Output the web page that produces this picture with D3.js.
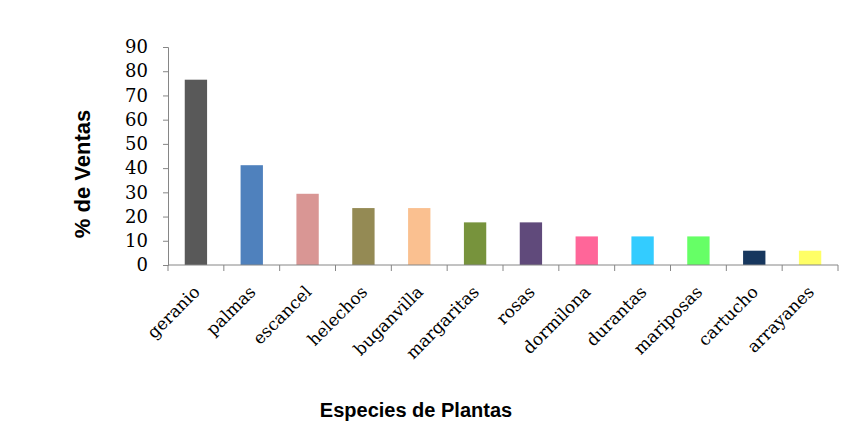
<!DOCTYPE html>
<html>
<head>
<meta charset="utf-8">
<script src="https://cdn.jsdelivr.net/npm/d3@7"></script>
<style>
  body { margin: 0; background: #fff; }
</style>
</head>
<body>
<div id="chart"></div>
<script>
const especies = ["geranio", "palmas", "escancel", "helechos", "buganvilla", "margaritas",
  "rosas", "dormilona", "durantas", "mariposas", "cartucho", "arrayanes"];
const ventas = [76.5, 41.2, 29.4, 23.5, 23.5, 17.6, 17.6, 11.8, 11.8, 11.8, 5.9, 5.9];
const colores = ["#595959", "#4F81BD", "#D99694", "#948A54", "#FAC090", "#77933C",
  "#604A7B", "#FF6699", "#33CCFF", "#66FF66", "#17375E", "#FFFF66"];
const yTicks = [0, 10, 20, 30, 40, 50, 60, 70, 80, 90];

var width = 865, height = 446;
var margin = { left: 168, right: 27, top: 47, bottom: 181 };

var svg = d3.select("#chart").append("svg")
  .attr("width", width)
  .attr("height", height);

var x = d3.scaleBand()
  .domain(especies)
  .range([margin.left, width - margin.right])
  .paddingInner(0.6)
  .paddingOuter(0.3);

var y = d3.scaleLinear()
  .domain([0, 90])
  .range([height - margin.bottom, margin.top]);

// bars
svg.append("g")
  .selectAll("rect")
  .data(especies)
  .join("rect")
  .attr("x", d => x(d))
  .attr("width", x.bandwidth())
  .attr("y", (d, i) => y(ventas[i]))
  .attr("height", (d, i) => y(0) - y(ventas[i]))
  .attr("fill", (d, i) => colores[i]);

// y axis
var yAxis = svg.append("g")
  .attr("transform", `translate(${margin.left},0)`)
  .call(d3.axisLeft(y).tickValues(yTicks).tickSize(5).tickPadding(15));
yAxis.select(".domain").attr("stroke", "#868686");
yAxis.selectAll(".tick line").attr("stroke", "#868686");
yAxis.selectAll(".tick text")
  .attr("fill", "#000")
  .style("font", "18px 'DejaVu Serif', serif");

// x axis with ticks at band boundaries
var step = x.step();
var x0 = margin.left;
var xAx = svg.append("g");
xAx.append("line")
  .attr("x1", x0).attr("x2", width - margin.right)
  .attr("y1", y(0)).attr("y2", y(0))
  .attr("stroke", "#868686");
xAx.selectAll("line.tk")
  .data(d3.range(especies.length + 1))
  .join("line")
  .attr("class", "tk")
  .attr("x1", i => x0 + i * step).attr("x2", i => x0 + i * step)
  .attr("y1", y(0)).attr("y2", y(0) + 6)
  .attr("stroke", "#868686");

xAx.selectAll("text")
  .data(especies)
  .join("text")
  .attr("text-anchor", "end")
  .attr("transform", d => `translate(${x(d) + x.bandwidth() / 2 + 5},${y(0) + 28}) rotate(-45)`)
  .style("font", "17px 'DejaVu Serif', serif")
  .text(d => d);

// axis titles
svg.append("text")
  .attr("transform", `translate(90,174) rotate(-90)`)
  .attr("text-anchor", "middle")
  .style("font", "bold 22px 'Liberation Sans', Arial, sans-serif")
  .text("% de Ventas");

svg.append("text")
  .attr("x", 416)
  .attr("y", 417)
  .attr("text-anchor", "middle")
  .style("font", "bold 20px 'Liberation Sans', Arial, sans-serif")
  .text("Especies de Plantas");
</script>
</body>
</html>
